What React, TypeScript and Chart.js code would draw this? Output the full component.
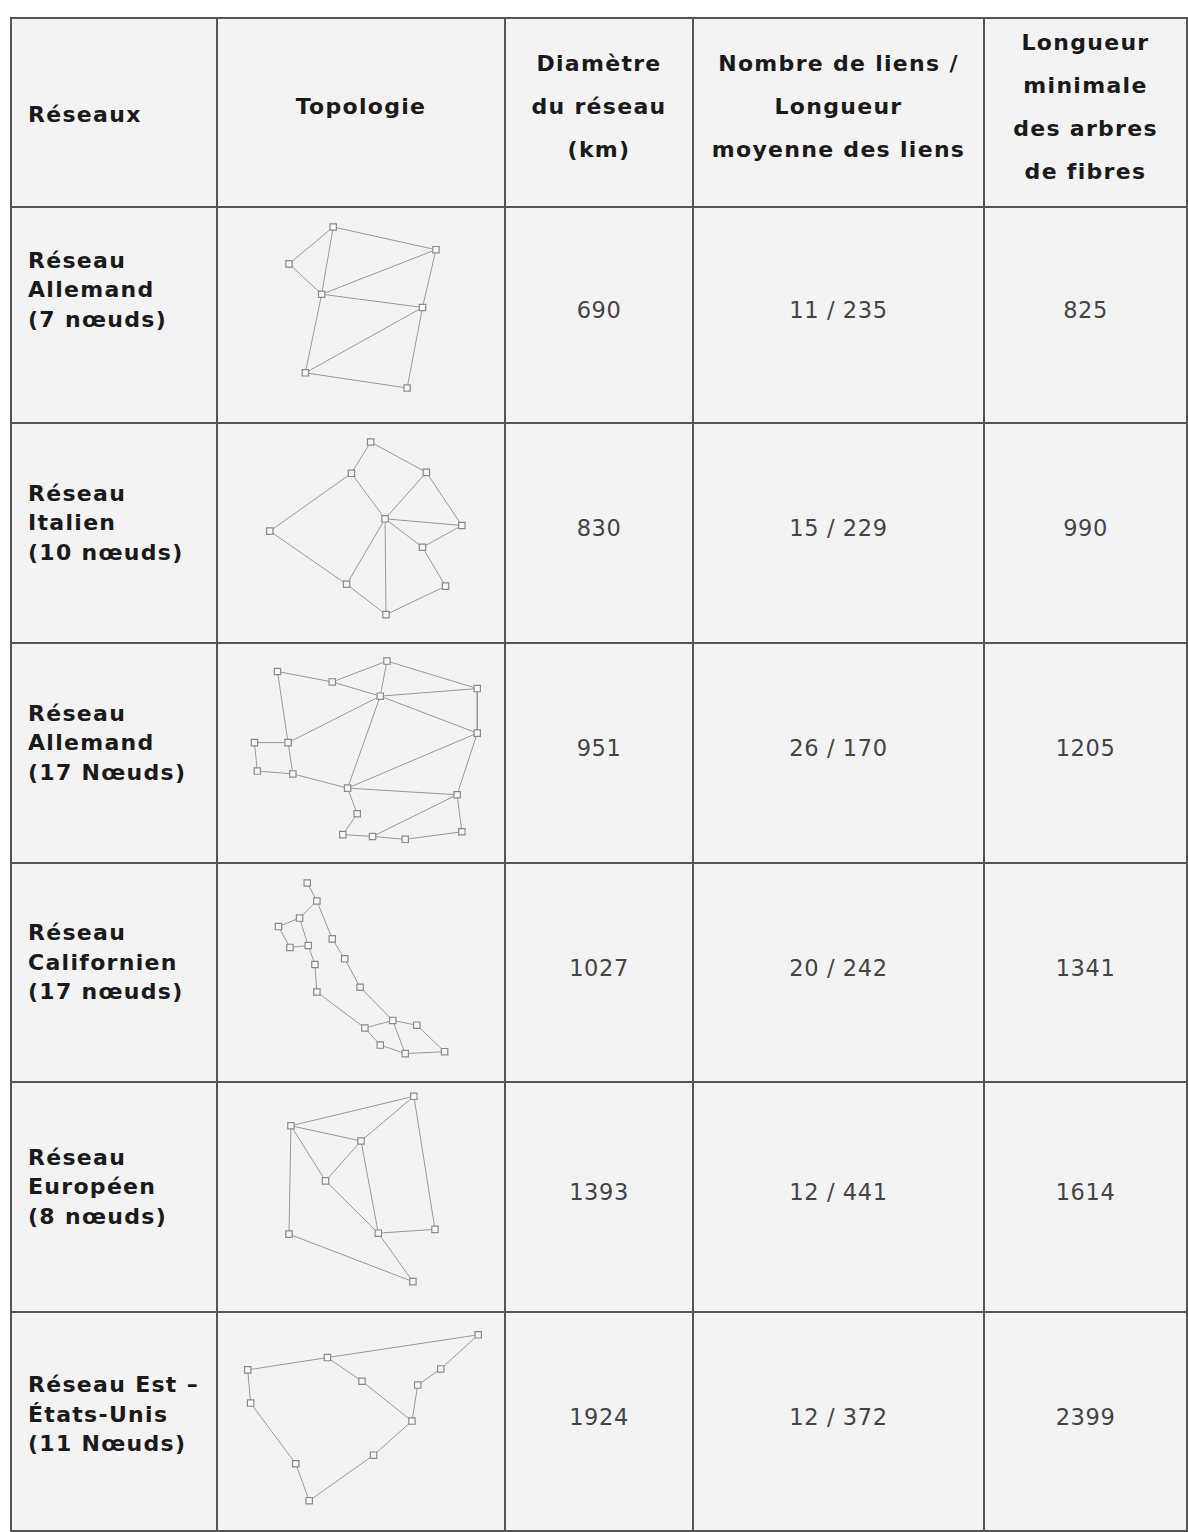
import React, { useEffect, useRef } from "react";
import { Chart, registerables } from "chart.js";

Chart.register(...registerables);

// ---------- table data ----------
const networkNames = [
  ["Réseau", "Allemand", "(7 nœuds)"],
  ["Réseau", "Italien", "(10 nœuds)"],
  ["Réseau", "Allemand", "(17 Nœuds)"],
  ["Réseau", "Californien", "(17 nœuds)"],
  ["Réseau", "Européen", "(8 nœuds)"],
  ["Réseau Est –", "États-Unis", "(11 Nœuds)"],
];
const diameters = ["690", "830", "951", "1027", "1393", "1924"];
const linkCounts = [11, 15, 26, 20, 12, 12];
const meanLinkLengths = [235, 229, 170, 242, 441, 372];
const minTreeLengths = ["825", "990", "1205", "1341", "1614", "2399"];

const headers = [
  ["Réseaux"],
  ["Topologie"],
  ["Diamètre", "du réseau", "(km)"],
  ["Nombre de liens /", "Longueur", "moyenne des liens"],
  ["Longueur", "minimale", "des arbres", "de fibres"],
];

// ---------- topology data (node map coordinates, edges as node index pairs) ----------
const de7X = [114, 68, 221, 102, 207, 85, 191];
const de7Y = [14, 53, 38, 85, 99, 168, 184];
const de7Edges = [[0, 1], [0, 3], [0, 2], [1, 3], [2, 3], [3, 4], [2, 4], [4, 5], [3, 5], [5, 6], [4, 6]];

const it10X = [153, 133, 211, 48, 168, 248, 207, 128, 231, 169];
const it10Y = [13, 46, 45, 107, 94, 101, 124, 163, 165, 195];
const it10Edges = [[0, 1], [0, 2], [1, 3], [1, 4], [2, 4], [2, 5], [4, 5], [5, 6], [4, 6], [4, 7], [4, 9], [3, 7], [7, 9], [6, 8], [8, 9]];

const de17X = [56, 113, 170, 163, 264, 264, 32, 67, 35, 72, 129, 243, 139, 124, 155, 189, 248];
const de17Y = [23, 34, 12, 49, 41, 88, 98, 98, 128, 131, 146, 153, 173, 195, 197, 200, 192];
const de17Edges = [[0, 1], [1, 2], [1, 3], [2, 3], [2, 4], [3, 4], [0, 7], [7, 3], [3, 5], [3, 10], [4, 5], [5, 10], [5, 11], [6, 7], [6, 8], [8, 9], [7, 9], [9, 10], [10, 11], [10, 12], [12, 13], [13, 14], [14, 11], [14, 15], [15, 16], [11, 16]];

const ca17X = [87, 97, 79, 57, 113, 69, 88, 126, 95, 142, 97, 176, 147, 201, 163, 189, 230];
const ca17Y = [14, 33, 51, 60, 73, 82, 80, 94, 100, 124, 129, 159, 167, 164, 185, 194, 192];
const ca17Edges = [[0, 1], [1, 2], [1, 4], [2, 3], [2, 6], [3, 5], [5, 6], [6, 8], [8, 10], [4, 7], [7, 9], [9, 11], [10, 12], [12, 11], [11, 13], [13, 16], [11, 15], [12, 14], [14, 15], [15, 16]];

const eu8X = [198, 70, 143, 106, 68, 161, 220, 197];
const eu8Y = [8, 39, 55, 97, 153, 152, 148, 203];
const eu8Edges = [[0, 1], [1, 2], [0, 2], [0, 6], [1, 3], [2, 3], [2, 5], [1, 4], [3, 5], [5, 6], [4, 7], [5, 7]];

const us11X = [265, 108, 25, 226, 144, 202, 28, 196, 75, 156, 89];
const us11Y = [17, 41, 54, 53, 66, 70, 89, 108, 153, 144, 192];
const us11Edges = [[0, 1], [1, 2], [0, 3], [3, 5], [5, 7], [1, 4], [4, 7], [2, 6], [6, 8], [8, 10], [10, 9], [9, 7]];

const topologies = [
  { xs: de7X, ys: de7Y, edges: de7Edges },
  { xs: it10X, ys: it10Y, edges: it10Edges },
  { xs: de17X, ys: de17Y, edges: de17Edges },
  { xs: ca17X, ys: ca17Y, edges: ca17Edges },
  { xs: eu8X, ys: eu8Y, edges: eu8Edges },
  { xs: us11X, ys: us11Y, edges: us11Edges },
];

// ---------- layout ----------
const colX = [10, 218, 506, 694, 985, 1188];
const rowY = [17, 208, 424, 644, 864, 1083, 1313, 1532];
const labelPadBottom = [50, 20, 20, 20, 20, 14];
const LINE = "#555";
const CELL_BG = "#f3f3f3";
const FONT = "'DejaVu Sans', Verdana, sans-serif";

function Topology({ net, w, h }: { net: any; w: number; h: number }) {
  const ref = useRef<HTMLCanvasElement>(null);
  useEffect(() => {
    if (!ref.current) return;
    const edgeSets = net.edges.map((e: number[]) => ({
      data: [
        { x: net.xs[e[0]], y: net.ys[e[0]] },
        { x: net.xs[e[1]], y: net.ys[e[1]] },
      ],
      showLine: true,
      borderColor: "#999999",
      borderWidth: 1,
      pointRadius: 0,
      order: 2,
    }));
    const nodes = {
      data: net.xs.map((x: number, i: number) => ({ x, y: net.ys[i] })),
      pointStyle: "rect",
      pointRadius: 4.5,
      backgroundColor: "#f6f6f6",
      borderColor: "#8a8a8a",
      borderWidth: 1.2,
      showLine: false,
      order: 1,
    };
    const chart = new Chart(ref.current, {
      type: "scatter",
      data: { datasets: [...edgeSets, nodes] },
      options: {
        animation: false,
        responsive: false,
        maintainAspectRatio: false,
        layout: { padding: 0 },
        plugins: { legend: { display: false }, tooltip: { enabled: false } },
        scales: {
          x: { type: "linear", min: 0, max: w, display: false },
          y: { type: "linear", min: 0, max: h, reverse: true, display: false },
        },
      },
    });
    return () => chart.destroy();
  }, [net, w, h]);
  return <canvas ref={ref} width={w} height={h} style={{ display: "block", width: w, height: h }} />;
}

export default function App() {
  const cells: React.ReactNode[] = [];
  const nRows = rowY.length - 1;
  for (let r = 0; r < nRows; r++) {
    for (let c = 0; c < colX.length - 1; c++) {
      const left = colX[c];
      const top = rowY[r];
      const w = colX[c + 1] - left;
      const h = rowY[r + 1] - top;
      let content: React.ReactNode = null;
      let align: any = "center";
      let textAlign: any = "center";
      let pad = "0";
      if (r === 0) {
        const lines = headers[c];
        if (c === 0) {
          align = "flex-start";
          textAlign = "left";
          pad = "4px 0 0 16px";
        } else {
          pad = "0 0 12px 0";
        }
        content = (
          <div style={{ fontWeight: "bold", fontSize: 22, lineHeight: "43px", color: "#1a1a1a", letterSpacing: "1.3px" }}>
            {lines.map((l, i) => (
              <div key={i}>{l}</div>
            ))}
          </div>
        );
      } else {
        const i = r - 1;
        if (c === 0) {
          align = "flex-start";
          textAlign = "left";
          pad = `0 0 ${labelPadBottom[i]}px 16px`;
          content = (
            <div style={{ fontWeight: "bold", fontSize: 22, lineHeight: "29.5px", color: "#1a1a1a", letterSpacing: "1.3px" }}>
              {networkNames[i].map((l, k) => (
                <div key={k}>{l}</div>
              ))}
            </div>
          );
        } else if (c === 1) {
          content = null;
        } else {
          const txt = c === 2 ? diameters[i] : c === 3 ? `${linkCounts[i]} / ${meanLinkLengths[i]}` : minTreeLengths[i];
          pad = "0 0 10px 0";
          content = <div style={{ fontSize: 22.5, color: "#444", letterSpacing: "0.6px" }}>{txt}</div>;
        }
      }
      cells.push(
        <div
          key={`${r}-${c}`}
          style={{
            position: "absolute",
            left,
            top,
            width: w,
            height: h,
            boxSizing: "border-box",
            borderLeft: c === 0 ? `2px solid ${LINE}` : "none",
            borderTop: r === 0 ? `2px solid ${LINE}` : "none",
            borderRight: `2px solid ${LINE}`,
            borderBottom: `2px solid ${LINE}`,
            background: CELL_BG,
            display: "flex",
            flexDirection: "column",
            justifyContent: "center",
            alignItems: align,
            textAlign,
            padding: pad,
            fontFamily: FONT,
          }}
        >
          {content}
        </div>
      );
      if (r > 0 && c === 1) {
        cells.push(
          <div key={`t-${r}`} style={{ position: "absolute", left, top, width: w, height: h }}>
            <Topology net={topologies[r - 1]} w={w} h={h} />
          </div>
        );
      }
    }
  }
  return (
    <div style={{ position: "absolute", left: 0, top: 0, width: 1188, height: 1532, background: "#fff", overflow: "hidden" }}>
      {cells}
    </div>
  );
}
